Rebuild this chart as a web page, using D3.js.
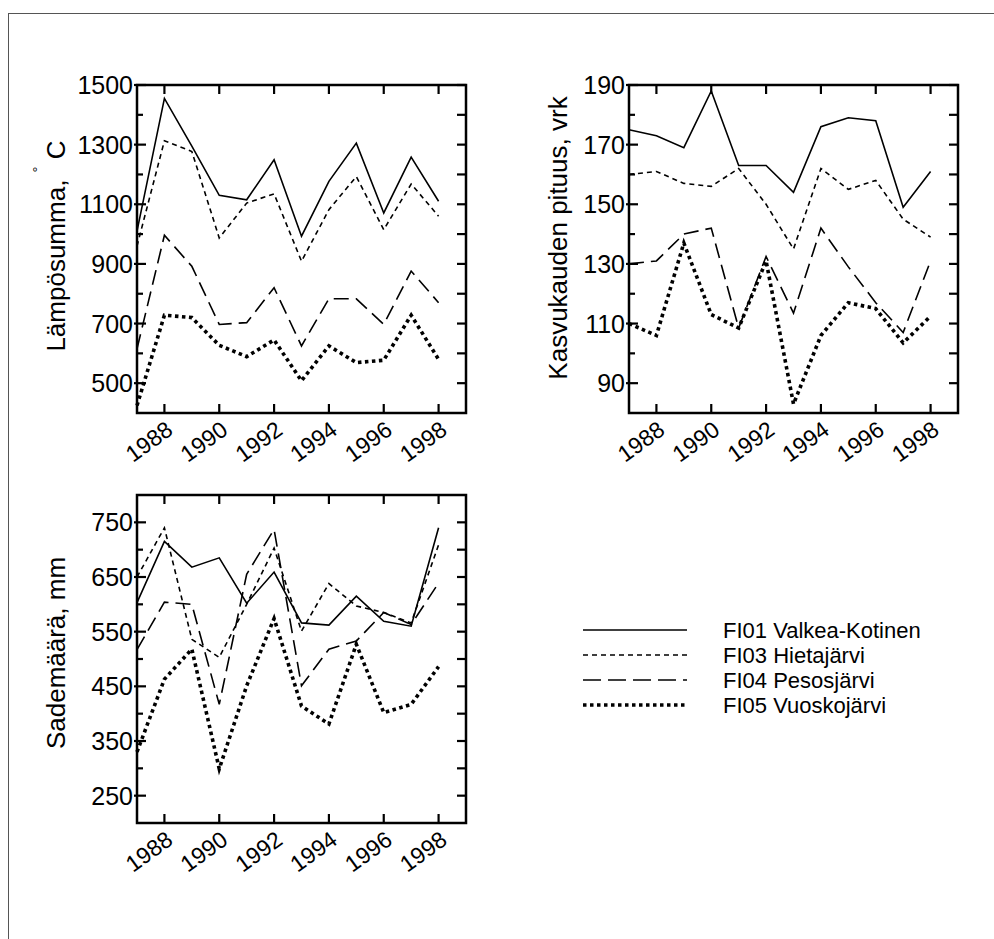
<!DOCTYPE html>
<html>
<head>
<meta charset="utf-8">
<script src="https://cdn.jsdelivr.net/npm/d3@7"></script>
<style>
  body { margin: 0; background: #fff; }
  svg text { font-family: "Liberation Sans", Arial, sans-serif; fill: #000; }
</style>
</head>
<body>
<div id="chart"></div>
<script>
const years = [1987, 1988, 1989, 1990, 1991, 1992, 1993, 1994, 1995, 1996, 1997, 1998];
const yearTicks = [1988, 1990, 1992, 1994, 1996, 1998];

const sites = ["FI01 Valkea-Kotinen", "FI03 Hietajärvi", "FI04 Pesosjärvi", "FI05 Vuoskojärvi"];

// Lämpösumma, °C
const heatFI01 = [1010, 1455, 1295, 1130, 1115, 1249, 993, 1177, 1305, 1071, 1258, 1110];
const heatFI03 = [960, 1313, 1277, 987, 1104, 1135, 909, 1082, 1193, 1015, 1168, 1060];
const heatFI04 = [615, 996, 892, 697, 703, 820, 625, 783, 783, 697, 876, 770];
const heatFI05 = [425, 728, 720, 627, 589, 645, 508, 625, 569, 577, 728, 580];

// Kasvukauden pituus, vrk
const seasonFI01 = [175, 173, 169, 188, 163, 163, 154, 176, 179, 178, 149, 161];
const seasonFI03 = [160, 161, 157, 156, 162, 150, 135, 162, 155, 158, 145, 139];
const seasonFI04 = [130, 131, 140, 142, 108.5, 132.5, 113.5, 142, 129, 117, 107, 131];
const seasonFI05 = [110, 106, 137, 113, 108.5, 131, 83, 106, 117, 115, 103.5, 112.5];

// Sademäärä, mm
const rainFI01 = [603, 715, 668, 685, 602, 659, 566, 562, 615, 569, 560, 740];
const rainFI03 = [650, 740, 536, 503, 600, 703, 551, 638, 597, 585, 566, 709];
const rainFI04 = [517, 604, 600, 417, 655, 737, 451, 518, 533, 585, 563, 639];
const rainFI05 = [330, 463, 518, 299, 451, 574, 414, 381, 527, 402, 417, 486];

const heatMajor = [500, 700, 900, 1100, 1300, 1500];
const heatMinor = [600, 800, 1000, 1200, 1400];
const seasonMajor = [90, 110, 130, 150, 170, 190];
const seasonMinor = [100, 120, 140, 160, 180];
const rainMajor = [250, 350, 450, 550, 650, 750];
const rainMinor = [300, 400, 500, 600, 700];

const lineStyles = [
  { dash: null, width: 1.6 },
  { dash: "5,4", width: 1.6 },
  { dash: "15,7", width: 1.6 },
  { dash: "3.5,3.5", width: 3.6 }
];

const svg = d3.select("#chart")
  .append("svg")
  .attr("width", 994)
  .attr("height", 939);

// outer border (only top and left edges are visible in the frame)
svg.append("rect")
  .attr("x", 8.5).attr("y", 13.5)
  .attr("width", 1100).attr("height", 1100)
  .attr("fill", "none")
  .attr("stroke", "#555")
  .attr("stroke-width", 1);

function drawPanel(opts) {
  const { left, top, w, h, domain, major, minor, series, title, titleY } = opts;
  const g = svg.append("g");

  const x = d3.scaleLinear().domain([1987, 1999]).range([left, left + w]);
  const y = d3.scaleLinear().domain(domain).range([top + h, top]);

  const line = d3.line()
    .x((d, i) => x(years[i]))
    .y(d => y(d));

  g.selectAll("path.series")
    .data(series)
    .join("path")
    .attr("class", "series")
    .attr("d", d => line(d))
    .attr("fill", "none")
    .attr("stroke", "#000")
    .attr("stroke-width", (d, i) => lineStyles[i].width)
    .attr("stroke-dasharray", (d, i) => lineStyles[i].dash)
    .attr("stroke-linejoin", "miter");

  // ticks, all drawn pointing inward
  const tickG = g.append("g").attr("stroke", "#000").attr("stroke-width", 2.2);
  major.forEach(v => {
    tickG.append("line").attr("x1", left - 3).attr("x2", left + 9).attr("y1", y(v)).attr("y2", y(v));
    tickG.append("line").attr("x1", left + w).attr("x2", left + w - 9).attr("y1", y(v)).attr("y2", y(v));
  });
  minor.forEach(v => {
    tickG.append("line").attr("x1", left).attr("x2", left + 6).attr("y1", y(v)).attr("y2", y(v));
    tickG.append("line").attr("x1", left + w).attr("x2", left + w - 9).attr("y1", y(v)).attr("y2", y(v));
  });
  yearTicks.forEach(v => {
    tickG.append("line").attr("x1", x(v)).attr("x2", x(v)).attr("y1", top).attr("y2", top + 9);
    tickG.append("line").attr("x1", x(v)).attr("x2", x(v)).attr("y1", top + h).attr("y2", top + h - 9);
  });

  g.selectAll("text.ylab")
    .data(major)
    .join("text")
    .attr("class", "ylab")
    .attr("x", left - 4)
    .attr("y", d => y(d) + 9)
    .attr("text-anchor", "end")
    .attr("font-size", 25)
    .text(d => d);

  g.selectAll("text.xlab")
    .data(yearTicks)
    .join("text")
    .attr("class", "xlab")
    .attr("text-anchor", "end")
    .attr("font-size", 23)
    .attr("transform", d => `translate(${x(d) + 10},${top + h + 20}) rotate(-36)`)
    .text(d => d);

  // frame
  g.append("rect")
    .attr("x", left).attr("y", top)
    .attr("width", w).attr("height", h)
    .attr("fill", "none")
    .attr("stroke", "#000")
    .attr("stroke-width", 2.5);

  const t = g.append("text")
    .attr("text-anchor", "middle")
    .attr("font-size", 26)
    .attr("transform", `translate(${opts.titleX},${titleY}) rotate(-90)`);
  if (opts.degree) {
    t.append("tspan").text(title);
    t.append("tspan").attr("font-size", 15).attr("dy", -22).text("°");
    t.append("tspan").attr("dy", 22).text(" C");
  } else {
    t.text(title);
  }
}

drawPanel({
  left: 137, top: 85, w: 329, h: 328,
  domain: [400, 1500], major: heatMajor, minor: heatMinor,
  series: [heatFI01, heatFI03, heatFI04, heatFI05],
  title: "Lämpösumma,  ", degree: true, titleX: 65, titleY: 246
});

drawPanel({
  left: 629, top: 85, w: 329, h: 328,
  domain: [80, 190], major: seasonMajor, minor: seasonMinor,
  series: [seasonFI01, seasonFI03, seasonFI04, seasonFI05],
  title: "Kasvukauden pituus, vrk", titleX: 567, titleY: 238
});

drawPanel({
  left: 137, top: 495, w: 329, h: 328,
  domain: [200, 800], major: rainMajor, minor: rainMinor,
  series: [rainFI01, rainFI03, rainFI04, rainFI05],
  title: "Sademäärä, mm", titleX: 65, titleY: 653
});

// legend
const legendRows = [630, 655, 680, 705];
const legend = svg.append("g");
sites.forEach((name, i) => {
  legend.append("line")
    .attr("x1", 583).attr("x2", 687)
    .attr("y1", legendRows[i]).attr("y2", legendRows[i])
    .attr("stroke", "#000")
    .attr("stroke-width", lineStyles[i].width)
    .attr("stroke-dasharray", i === 2 ? "18,7" : lineStyles[i].dash);
  legend.append("text")
    .attr("x", 723)
    .attr("y", legendRows[i] + 8)
    .attr("font-size", 22)
    .text(name);
});
</script>
</body>
</html>
